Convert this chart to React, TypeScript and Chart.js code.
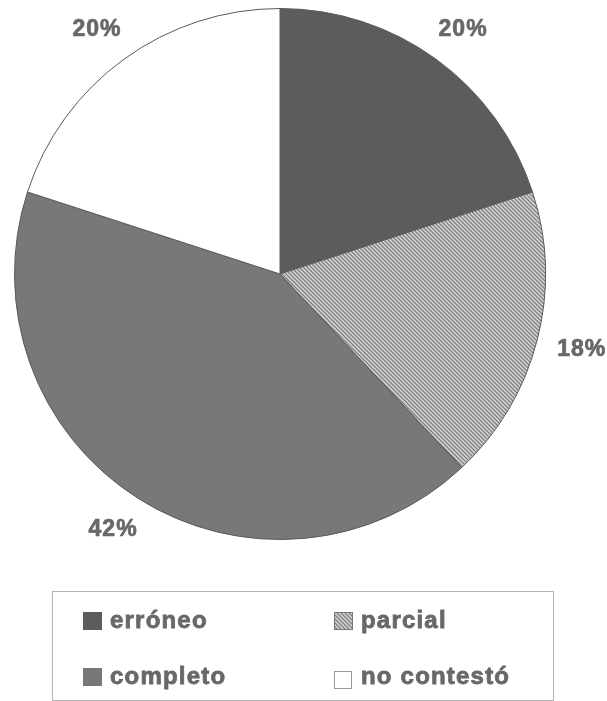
import React, { useEffect, useRef } from "react";
import { Chart, registerables } from "chart.js";

Chart.register(...registerables);

const categories = ["erróneo", "parcial", "completo", "no contestó"];
const values = [20, 18, 42, 20];
const percentLabels = ["20%", "18%", "42%", "20%"];

function makeHatch(): CanvasPattern | string {
  const c = document.createElement("canvas");
  c.width = 4;
  c.height = 4;
  const ctx = c.getContext("2d");
  if (!ctx) return "#aaa";
  ctx.fillStyle = "#d8d8d8";
  ctx.fillRect(0, 0, 4, 4);
  ctx.strokeStyle = "#7e7e7e";
  ctx.lineWidth = 1.3;
  ctx.beginPath();
  ctx.moveTo(-1, -1);
  ctx.lineTo(5, 5);
  ctx.moveTo(-1, 3);
  ctx.lineTo(1, 5);
  ctx.moveTo(3, -1);
  ctx.lineTo(5, 1);
  ctx.stroke();
  const p = ctx.createPattern(c, "repeat");
  return p || "#aaa";
}

export default function App() {
  const ref = useRef<HTMLCanvasElement | null>(null);
  useEffect(() => {
    if (!ref.current) return;
    const hatch = makeHatch();
    const colors: any[] = ["#5c5c5c", hatch, "#787878", "#ffffff"];
    const textColor = "#686868";
    const pctFont = "bold 23px 'Liberation Sans', Arial, sans-serif";
    const legFont = "bold 24px 'Liberation Sans', Arial, sans-serif";

    const heavyText = (ctx: CanvasRenderingContext2D, s: string, x: number, y: number) => {
      ctx.fillText(s, x, y);
      ctx.strokeText(s, x, y);
    };

    const labelsPlugin = {
      id: "pctLabels",
      afterDatasetsDraw(chart: any) {
        const ctx = chart.ctx;
        const meta = chart.getDatasetMeta(0);
        ctx.save();
        ctx.font = pctFont;
        (ctx as any).letterSpacing = "1px";
        ctx.fillStyle = textColor;
        ctx.strokeStyle = textColor;
        ctx.lineWidth = 0.7;
        ctx.textAlign = "center";
        ctx.textBaseline = "middle";
        meta.data.forEach((arc: any, i: number) => {
          const p = arc.getProps(["x", "y", "startAngle", "endAngle", "outerRadius"], true);
          const mid = (p.startAngle + p.endAngle) / 2;
          const rx = p.outerRadius + 46;
          const ry = p.outerRadius + 37;
          heavyText(ctx, percentLabels[i], p.x + Math.cos(mid) * rx, p.y + Math.sin(mid) * ry);
        });
        ctx.restore();
      },
    };

    const legendPlugin = {
      id: "boxLegend",
      afterDraw(chart: any) {
        const ctx = chart.ctx;
        ctx.save();
        ctx.strokeStyle = "#b4b4b4";
        ctx.lineWidth = 1;
        ctx.strokeRect(52.5, 591.5, 501, 109);
        ctx.font = legFont;
        (ctx as any).letterSpacing = "1.2px";
        ctx.textBaseline = "middle";
        ctx.textAlign = "left";
        const pos = [
          { x: 83, y: 621, tx: 110 },
          { x: 334, y: 621, tx: 361 },
          { x: 83, y: 677, tx: 110 },
          { x: 334, y: 677, tx: 361 },
        ];
        categories.forEach((name, i) => {
          const { x, y, tx } = pos[i];
          ctx.lineWidth = 1;
          if (i === 3) {
            ctx.fillStyle = "#fff";
            ctx.fillRect(x, y - 6, 18, 18);
            ctx.strokeStyle = "#999";
            ctx.strokeRect(x + 0.5, y - 5.5, 17, 17);
          } else {
            ctx.fillStyle = colors[i];
            ctx.fillRect(x, y - 9, 19, 18);
            if (i === 1) {
              ctx.strokeStyle = "#777";
              ctx.strokeRect(x + 0.5, y - 8.5, 18, 17);
            }
          }
          ctx.fillStyle = textColor;
          ctx.strokeStyle = textColor;
          ctx.lineWidth = 0.8;
          heavyText(ctx, name, tx, y);
        });
        ctx.restore();
      },
    };

    const chart = new Chart(ref.current, {
      type: "pie",
      data: {
        labels: categories,
        datasets: [
          {
            data: values,
            backgroundColor: colors,
            borderColor: "#5a5a5a",
            borderWidth: 1,
          },
        ],
      },
      options: {
        animation: false,
        responsive: false,
        maintainAspectRatio: false,
        layout: { padding: { left: 14, top: 8, right: 61, bottom: 161 } },
        plugins: {
          legend: { display: false },
          tooltip: { enabled: false },
        },
      },
      plugins: [labelsPlugin, legendPlugin],
    });
    return () => chart.destroy();
  }, []);

  return (
    <div style={{ position: "absolute", left: 0, top: 0, width: 607, height: 701, background: "#fff" }}>
      <canvas ref={ref} width={607} height={701} style={{ width: 607, height: 701, display: "block" }} />
    </div>
  );
}
